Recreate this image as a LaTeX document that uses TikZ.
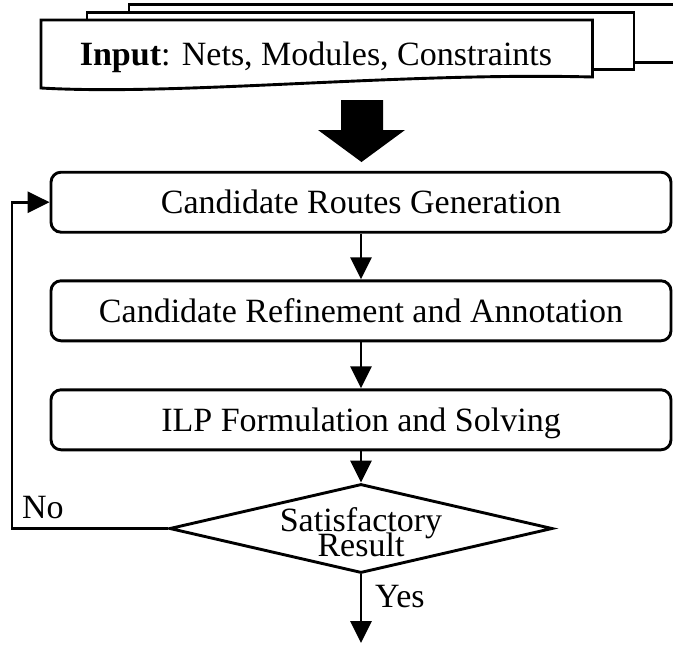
\documentclass[tikz,border=0pt]{standalone}
\usepackage{fontspec}
\setmainfont{Liberation Serif}
\usetikzlibrary{arrows.meta,shapes.geometric}
\begin{document}
\begin{tikzpicture}[x=1pt,y=-1pt,
  lw/.style={line width=2.9pt},
  procbox/.style={draw, lw, rounded corners=10pt, minimum width=620pt, minimum height=60pt,
    inner sep=0pt, text height=23pt, text depth=0pt, font=\fontsize{34}{40}\selectfont},
  arr/.style={lw, -{Triangle[length=22pt,width=21pt]}},
  lbl/.style={font={\fontsize{34}{24.5}\selectfont\lineskiplimit=-30pt}, inner sep=0pt}
]
\useasboundingbox (0,0) rectangle (673,646);
\clip (0,0) rectangle (673,646);
% stacked documents
\draw[lw, fill=white] (129,4.5) rectangle (700,62.5);
\draw[lw, fill=white] (87,12.5) rectangle (634,69.5);
\draw[lw, fill=white] (41,20) -- (592.5,20) -- (592.5,77)
  .. controls (400,72) and (180,96) .. (41,88) -- cycle;
\node[lbl, anchor=base] (input) at (316,65) {\textbf{Input}: Nets, Modules, Constraints};
% block arrow
\fill (341,100) -- (383,100) -- (383,130) -- (405,130) -- (361.5,162) -- (318,130) -- (341,130) -- cycle;
% process boxes
\node[procbox] (b1) at (361,202.2) {Candidate Routes Generation};
\node[procbox] (b2) at (361,310.8) {Candidate Refinement and Annotation};
\node[procbox] (b3) at (361,419.8) {ILP Formulation and Solving};
% decision
\node[draw, lw, diamond, minimum width=383pt, minimum height=89pt, inner sep=0pt] (dia) at (361,528.5) {};
\node[lbl, align=center] (dtext) at (361,532.3) {Satisfactory\\Result};
% connectors
\draw[arr] (b1.south) -- (b2.north);
\draw[arr] (b2.south) -- (b3.north);
\draw[arr] (b3.south) -- (dia.north);
\coordinate (yend) at (361,643);
\draw[arr] (dia.south) -- (yend);
\coordinate (lp) at (12,528.5);
\draw[arr] (dia.west) -- (lp) |- (b1.west);
% labels
\node[lbl, anchor=base west] (no) at (22,518) {No};
\node[lbl, anchor=base west] (yes) at (375,607) {Yes};
\end{tikzpicture}
\end{document}
